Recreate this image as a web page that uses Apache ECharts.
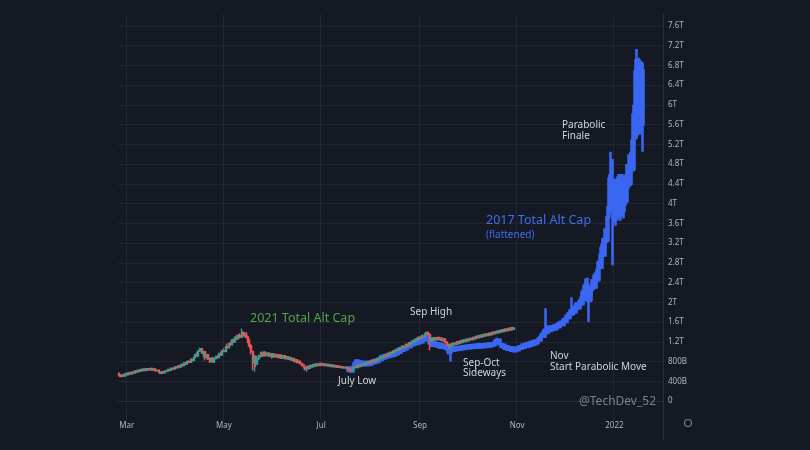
<!DOCTYPE html>
<html><head><meta charset="utf-8">
<script src="https://cdn.jsdelivr.net/npm/echarts@6/dist/echarts.min.js"></script>
<style>html,body{margin:0;padding:0;background:#151924;}#c{width:810px;height:450px;}</style>
</head><body><div id="c"></div>
<script>
// ---- axes / categories ----
const firstDate = '2021-02-24';
const lastDate = '2022-01-31';
const xTickDates = ['2021-03-01','2021-05-01','2021-07-01','2021-09-01','2021-11-01','2022-01-01'];
const xTickLabels = ['Mar','May','Jul','Sep','Nov','2022'];
// y values in billions USD
const yMin = -400, yMax = 7838, yStep = 400;

// ---- 2021 Total Alt Cap daily candles [open, close, low, high] (B USD) ----
const alt2021Start = '2021-02-24';
const alt2021 = [
[560,520,505,575],[520,495,480,540],[495,530,485,540],[530,505,490,545],[505,550,500,565],[550,530,515,570],
[530,570,520,585],[570,545,535,590],[545,585,540,600],[585,565,550,605],[565,610,560,625],[610,585,575,625],
[585,625,580,640],[625,600,590,645],[600,640,595,655],[640,615,605,660],[615,650,610,665],[650,620,605,660],
[620,655,615,670],[655,630,620,670],[630,660,625,675],[660,625,615,670],[625,650,615,665],[650,610,600,660],
[610,625,595,640],[625,585,575,635],[585,560,545,600],[560,590,550,600],[590,570,560,605],[570,610,565,620],
[610,600,585,625],[600,640,595,650],[640,620,610,655],[620,665,615,675],[665,645,635,680],[645,690,640,700],
[690,670,660,705],[670,710,665,720],[710,690,680,725],[690,740,685,750],[740,720,710,755],[720,770,715,780],
[770,750,735,790],[750,800,745,815],[800,785,770,825],[785,840,780,855],[840,820,800,865],[820,880,815,895],
[880,940,870,955],[940,910,900,980],[910,1010,905,1035],[1010,1060,990,1080],[1060,970,950,1070],[970,1000,880,1020],
[1000,880,820,1010],[880,940,860,955],[940,850,830,950],[850,800,770,880],[800,870,790,880],[870,790,770,880],
[790,860,780,870],[860,900,840,915],[900,880,860,925],[880,960,870,975],[960,930,920,1000],[930,1020,925,1035],
[1020,1000,985,1070],[1000,1100,995,1115],[1100,1080,1060,1160],[1080,1160,1070,1180],[1160,1140,1120,1205],[1140,1240,1130,1255],
[1240,1200,1180,1265],[1200,1290,1195,1300],[1290,1260,1240,1340],[1260,1330,1250,1350],[1330,1290,1270,1370],[1290,1390,1280,1470],
[1390,1320,1300,1410],[1320,1370,1300,1395],[1370,1290,1260,1390],[1290,1220,1170,1330],[1220,1120,1070,1250],[1120,1000,940,1160],
[1000,780,620,1020],[780,900,590,930],[900,760,690,920],[760,860,730,880],[860,920,830,940],[920,980,880,1000],
[980,910,890,1000],[910,990,900,1010],[990,930,905,1000],[930,970,900,985],[970,910,890,985],[910,960,895,975],
[960,890,860,970],[890,950,875,965],[950,900,880,960],[900,940,875,950],[940,880,865,955],[880,930,870,945],
[930,870,850,940],[870,915,860,925],[915,860,845,925],[860,895,840,905],[895,850,835,905],[850,880,830,890],
[880,830,815,890],[830,860,815,870],[860,800,790,870],[800,835,790,845],[835,780,770,845],[780,805,760,815],
[805,760,750,815],[760,730,700,775],[730,680,660,745],[680,650,620,700],[650,700,590,710],[700,660,640,715],
[660,720,650,730],[720,695,680,735],[695,740,690,755],[740,710,700,755],[710,750,700,765],[750,720,710,760],
[720,760,715,775],[760,730,720,770],[730,755,720,765],[755,720,710,765],[720,745,710,755],[745,710,700,755],
[710,735,700,745],[735,700,690,745],[700,725,690,735],[725,695,685,735],[695,715,685,725],[715,685,675,722],
[685,705,675,715],[705,675,665,712],[675,695,665,705],[695,665,655,702],[665,685,655,695],[685,650,640,692],
[650,665,635,675],[665,630,615,672],[630,620,595,645],[620,670,610,680],[670,700,660,715],[700,680,665,715],
[680,720,675,730],[720,700,690,735],[700,745,695,755],[745,725,710,760],[725,765,720,780],[765,745,735,785],
[745,785,740,800],[785,765,755,805],[765,810,760,825],[810,790,780,830],[790,835,785,850],[835,815,800,855],
[815,860,810,875],[860,840,830,880],[840,890,835,905],[890,870,855,910],[870,920,865,935],[920,900,885,940],
[900,950,895,965],[950,930,915,970],[930,985,925,1000],[985,960,945,1005],[960,1015,955,1030],[1015,995,980,1035],
[995,1045,990,1060],[1045,1025,1010,1065],[1025,1080,1020,1095],[1080,1060,1045,1100],[1060,1110,1055,1125],[1110,1090,1075,1130],
[1090,1145,1085,1160],[1145,1120,1105,1165],[1120,1180,1115,1195],[1180,1160,1140,1200],[1160,1215,1155,1230],[1215,1195,1180,1240],
[1195,1250,1190,1265],[1250,1230,1215,1275],[1230,1290,1225,1305],[1290,1265,1250,1310],[1265,1320,1260,1335],[1320,1300,1285,1345],
[1300,1355,1295,1370],[1355,1390,1340,1405],[1390,1350,1330,1410],[1350,1210,1030,1370],[1210,1270,1190,1285],[1270,1230,1210,1290],
[1230,1280,1220,1295],[1280,1240,1225,1290],[1240,1285,1230,1300],[1285,1245,1230,1295],[1245,1270,1215,1280],[1270,1225,1210,1280],
[1225,1255,1200,1265],[1255,1195,1175,1265],[1195,1140,1110,1205],[1140,1090,1050,1160],[1090,1150,1030,1160],[1150,1120,1105,1175],
[1120,1175,1110,1185],[1175,1145,1130,1190],[1145,1200,1140,1215],[1200,1165,1150,1215],[1165,1215,1160,1230],[1215,1185,1175,1235],
[1185,1235,1180,1250],[1235,1205,1195,1250],[1205,1250,1200,1265],[1250,1220,1210,1265],[1220,1265,1215,1280],[1265,1240,1225,1285],
[1240,1285,1235,1300],[1285,1260,1245,1300],[1260,1305,1255,1320],[1305,1280,1265,1325],[1280,1325,1275,1340],[1325,1295,1285,1345],
[1295,1340,1290,1355],[1340,1310,1300,1360],[1310,1355,1305,1370],[1355,1325,1315,1375],[1325,1370,1320,1385],[1370,1340,1330,1390],
[1340,1390,1335,1405],[1390,1360,1345,1410],[1360,1405,1355,1420],[1405,1375,1360,1425],[1375,1420,1370,1440],[1420,1390,1375,1445],
[1390,1435,1385,1455],[1435,1405,1390,1460],[1405,1450,1400,1470],[1450,1420,1405,1480],[1420,1465,1415,1485],[1465,1435,1420,1490],
[1435,1480,1430,1500],[1480,1450,1430,1505],[1450,1475,1440,1500]
];

// ---- 2017 Total Alt Cap (flattened), overlaid, daily [open, close, low, high] (B USD) ----
const alt2017Start = '2021-07-18';
const alt2017Flattened = [
[680,610,590,700],[610,660,585,675],[660,600,585,680],[600,700,590,720],[700,760,680,800],[760,820,740,840],
[820,740,730,830],[740,800,720,815],[800,730,715,810],[730,790,715,800],[790,725,715,800],[725,790,715,805],
[790,730,715,800],[730,795,720,810],[795,740,730,810],[740,820,735,835],[820,770,760,835],[770,830,765,845],
[830,790,775,845],[790,850,785,865],[850,830,820,900],[830,910,825,925],[910,860,850,920],[860,930,855,945],
[930,880,870,940],[880,950,875,965],[950,900,890,960],[900,960,895,975],[960,920,910,985],[920,980,915,1000],
[980,950,935,1010],[950,1030,945,1045],[1030,980,970,1045],[980,1060,975,1075],[1060,1020,1005,1085],[1020,1090,1015,1100],
[1090,1050,1035,1110],[1050,1130,1045,1145],[1130,1090,1075,1160],[1090,1170,1085,1185],[1170,1130,1115,1195],[1130,1200,1125,1215],
[1200,1150,1140,1220],[1150,1220,1145,1235],[1220,1170,1160,1240],[1170,1240,1165,1255],[1240,1190,1180,1260],[1190,1260,1185,1275],
[1260,1230,1215,1300],[1230,1330,1225,1350],[1330,1270,1240,1385],[1270,1170,1140,1300],[1170,1120,1100,1200],[1120,1190,1110,1205],
[1190,1120,1105,1200],[1120,1170,1090,1180],[1170,1100,1090,1185],[1100,1160,1090,1175],[1160,1080,1070,1170],[1080,1140,1070,1150],
[1140,1070,1055,1150],[1070,1110,1040,1120],[1110,1040,1020,1120],[1040,990,940,1060],[990,1050,800,1060],[1050,1020,1000,1090],
[1020,1080,1010,1095],[1080,1030,1015,1095],[1030,1090,1020,1105],[1090,1040,1025,1105],[1040,1100,1030,1115],[1100,1050,1035,1115],
[1050,1110,1040,1125],[1110,1060,1045,1125],[1060,1120,1050,1135],[1120,1070,1055,1135],[1070,1130,1060,1145],[1130,1075,1060,1145],
[1075,1135,1065,1150],[1135,1080,1065,1150],[1080,1140,1070,1155],[1140,1085,1070,1160],[1085,1145,1075,1165],[1145,1090,1075,1165],
[1090,1150,1080,1170],[1150,1095,1080,1170],[1095,1155,1085,1175],[1155,1100,1085,1175],[1100,1160,1090,1180],[1160,1110,1095,1185],
[1110,1170,1100,1195],[1170,1130,1115,1210],[1130,1220,1125,1240],[1220,1190,1170,1280],[1190,1240,1160,1270],[1240,1150,1130,1250],
[1150,1100,1080,1180],[1100,1140,1070,1160],[1140,1060,1045,1150],[1060,1110,1040,1125],[1110,1040,1025,1120],[1040,1090,1015,1105],
[1090,1020,1005,1100],[1020,1075,995,1090],[1075,1010,990,1085],[1010,1080,1000,1095],[1080,1030,1015,1100],[1030,1110,1020,1125],
[1110,1060,1045,1130],[1060,1140,1050,1155],[1140,1080,1065,1160],[1080,1160,1070,1175],[1160,1100,1085,1180],[1100,1180,1090,1195],
[1180,1120,1105,1200],[1120,1200,1110,1215],[1200,1140,1125,1220],[1140,1220,1130,1235],[1220,1170,1155,1245],[1170,1260,1160,1280],
[1260,1230,1210,1320],[1230,1340,1220,1370],[1340,1300,1280,1420],[1300,1430,1290,1470],[1430,1380,1360,1880],[1380,1500,1360,1530],
[1500,1420,1400,1520],[1420,1510,1400,1530],[1510,1440,1420,1530],[1440,1530,1430,1550],[1530,1460,1440,1560],[1460,1560,1450,1580],
[1560,1500,1480,1600],[1500,1600,1490,1620],[1600,1540,1520,1630],[1540,1650,1530,1670],[1650,1600,1580,1700],[1600,1720,1590,1750],
[1720,1680,1650,1800],[1680,1820,1670,1860],[1820,1760,1740,2100],[1760,1880,1740,1920],[1880,1800,1760,1950],[1800,1950,1790,2000],
[1950,1880,1840,2000],[1880,2020,1860,2060],[2020,1960,1920,2120],[1960,2200,1940,2260],[2200,2050,2000,2350],[2050,2350,2020,2480],
[2350,2150,2000,2500],[2150,2050,1600,2300],[2050,2250,2000,2320],[2250,2400,2150,2470],[2400,2300,2250,2560],[2300,2550,2280,2620],
[2550,2450,2400,2680],[2450,2800,2420,2850],[2800,2700,2650,2980],[2700,3100,2680,3180],[3100,2950,2900,3300],[2950,3450,2930,3500],
[3450,3250,3200,3750],[3250,3850,3230,3950],[3850,4500,3700,4600],[4500,4100,3900,5050],[4100,3700,2750,4900],[3700,4400,3600,4500],
[4400,3800,3550,4500],[3800,4450,3650,4550],[4450,3900,3700,4600],[3900,4500,3650,4600],[4500,3850,3750,4600],[3850,4450,3700,4550],
[4450,4050,3950,4600],[4050,4700,4000,4800],[4700,4400,4300,5000],[4400,4950,4350,5050],[4950,4700,4600,5300],[4700,5800,4650,6000],
[5800,5400,5300,6700],[5400,6900,5300,7130],[6900,6000,5800,6950],[6000,6800,5400,6880],[6800,5600,5400,6880],[5600,6700,5050,6850]
];

// ---- build categories ----
function dayList(a, b) {
  const out = [];
  let t = Date.parse(a + 'T00:00:00Z');
  const e = Date.parse(b + 'T00:00:00Z');
  while (t <= e) { out.push(new Date(t).toISOString().slice(0, 10)); t += 86400000; }
  return out;
}
const dates = dayList(firstDate, lastDate);
function place(start, rows) {
  const off = dates.indexOf(start);
  return dates.map((_, i) => (i >= off && i - off < rows.length) ? rows[i - off] : ['-', '-', '-', '-']);
}
const tickMap = {};
xTickDates.forEach((d, i) => { tickMap[d] = xTickLabels[i]; });
const isTick = (idx, val) => tickMap[val] !== undefined;

const GRID = '#222632';
const splitColors = ['rgba(0,0,0,0)'];
for (let i = 0; i < 20; i++) splitColors.push(GRID);
splitColors.push('rgba(0,0,0,0)');

const chart = echarts.init(document.getElementById('c'), null, { renderer: 'canvas' });
const BLUE = '#3a67f2';
const TXT = '#d1d4dc';
const FONT = '"Noto Sans", sans-serif';
function label(x, y, text, size, color, lh) {
  return { type: 'text', x: x, y: y, silent: true, z: 100,
    style: { text: text, fill: color, font: size + 'px ' + FONT, verticalAlign: 'middle', align: 'left', lineHeight: lh || size * 1.1 } };
}

chart.setOption({
  backgroundColor: '#151924',
  animation: false,
  grid: { left: 118, right: 147, top: 14, bottom: 29.25 },
  xAxis: {
    type: 'category', data: dates, boundaryGap: true, offset: -5,
    axisLine: { show: true, lineStyle: { color: '#2a2e39', width: 1 } },
    axisTick: { show: false },
    axisLabel: { interval: isTick, formatter: v => tickMap[v] || '', color: '#b2b5be', fontSize: 8, margin: 6, fontFamily: FONT },
    splitLine: { show: true, interval: isTick, lineStyle: { color: GRID, width: 1 } }
  },
  yAxis: {
    type: 'value', position: 'right', min: yMin, max: yMax, interval: yStep, scale: false,
    axisLine: { show: true, lineStyle: { color: '#2a2e39', width: 1 } },
    axisTick: { show: false },
    axisLabel: { color: '#b2b5be', fontSize: 8, margin: 5, fontFamily: FONT, showMaxLabel: false,
      formatter: v => { v = Math.round(v); if (v < 0 || v > 7600) return ''; if (v === 0) return '0'; if (v < 1000) return v + 'B'; return (+(v / 1000).toFixed(1)) + 'T'; } },
    splitLine: { show: true, lineStyle: { color: splitColors, width: 1 } }
  },
  series: [
    { name: '2017 Total Alt Cap (flattened)', type: 'candlestick', data: place(alt2017Start, alt2017Flattened),
      barWidth: 2, z: 2,
      itemStyle: { color: BLUE, color0: BLUE, borderColor: BLUE, borderColor0: BLUE, borderWidth: 2.6 } },
    { name: '2021 Total Alt Cap', type: 'candlestick', data: place(alt2021Start, alt2021),
      barWidth: 1.5, z: 3,
      itemStyle: { color: '#26a69a', color0: '#ef5350', borderColor: '#26a69a', borderColor0: '#ef5350', borderWidth: 1.4 } }
  ],
  graphic: [
    label(250, 318, '2021 Total Alt Cap', 12.5, '#52a349'),
    label(410, 312, 'Sep High', 10, TXT),
    label(338, 381.5, 'July Low', 10, TXT),
    label(463, 368, 'Sep-Oct\nSideways', 10, TXT, 10.5),
    label(550, 361.5, 'Nov\nStart Parabolic Move', 10, TXT, 11),
    label(486, 220.5, '2017 Total Alt Cap', 12.5, '#3f6df0'),
    label(486, 235, '(flattened)', 10, '#3f6df0'),
    label(562, 130.5, 'Parabolic\nFinale', 10, TXT, 11),
    label(579, 402, '@TechDev_52', 12, 'rgba(160,163,172,0.75)'),
    { type: 'line', silent: true, shape: { x1: 663.5, y1: 415, x2: 663.5, y2: 440 }, style: { stroke: '#2a2e39', lineWidth: 1 } },
    { type: 'circle', silent: true, shape: { cx: 688, cy: 423, r: 3.5 }, style: { fill: 'none', stroke: '#787b86', lineWidth: 1.2 } }
  ]
});
</script></body></html>
